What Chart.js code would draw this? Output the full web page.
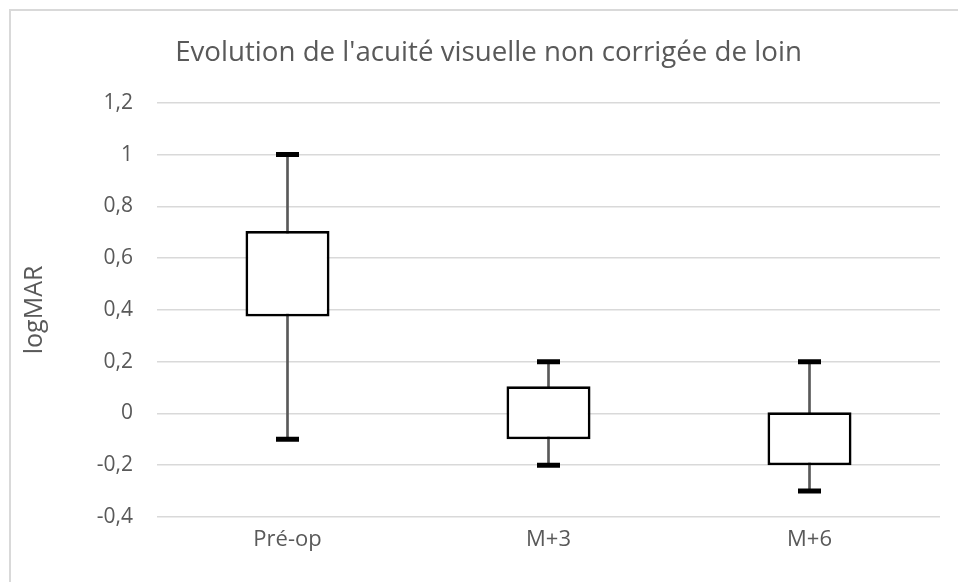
<!DOCTYPE html>
<html>
<head>
<meta charset="utf-8">
<script src="https://cdn.jsdelivr.net/npm/chart.js@4/dist/chart.umd.min.js"></script>
<style>
  html, body { margin: 0; padding: 0; background: #fff; }
  #wrap { position: relative; width: 958px; height: 582px; }
  #frame { position: absolute; left: 9px; top: 9px; right: -5px; bottom: -5px; border-top: 2px solid #d9d9d9; border-left: 2px solid #d9d9d9; pointer-events: none; }
  canvas { position: absolute; left: 0; top: 0; }
</style>
</head>
<body>
<div id="wrap">
  <canvas id="c" width="958" height="582"></canvas>
  <div id="frame"></div>
</div>
<script>
const categories = ["Pré-op", "M+3", "M+6"];
const minValues = [-0.1, -0.2, -0.3];
const q1Values = [0.375, -0.1, -0.2];
const q3Values = [0.705, 0.105, 0.005];
const maxValues = [1.0, 0.2, 0.2];
const yTicks = [-0.4, -0.2, 0, 0.2, 0.4, 0.6, 0.8, 1, 1.2];
const titleText = "Evolution de l'acuité visuelle non corrigée de loin";
const yTitle = "logMAR";

const FONT = "'Open Sans', sans-serif";
const GRAY = "#595959";

new Chart(document.getElementById('c'), {
  type: 'bar',
  data: {
    labels: categories,
    datasets: [
      {
        label: 'box',
        data: q1Values.map((q, i) => [q, q3Values[i]]),
        backgroundColor: '#ffffff',
        borderColor: '#000000',
        borderWidth: 2.75,
        borderSkipped: false,
        grouped: false,
        categoryPercentage: 1,
        barPercentage: 0.322,
        order: 1
      },
      {
        label: 'whisker',
        data: minValues.map((m, i) => [m, maxValues[i]]),
        backgroundColor: GRAY,
        borderWidth: 0,
        grouped: false,
        barThickness: 2,
        order: 2
      },
      {
        type: 'line',
        label: 'max',
        data: maxValues,
        showLine: false,
        pointStyle: 'line',
        pointRadius: 11.5,
        pointBorderWidth: 5,
        pointBorderColor: '#000000',
        pointBackgroundColor: '#000000',
        order: 0
      },
      {
        type: 'line',
        label: 'min',
        data: minValues,
        showLine: false,
        pointStyle: 'line',
        pointRadius: 11.5,
        pointBorderWidth: 5,
        pointBorderColor: '#000000',
        pointBackgroundColor: '#000000',
        order: 0
      }
    ]
  },
  options: {
    responsive: false,
    animation: false,
    events: [],
    layout: { padding: { left: 37, right: 18, top: 0, bottom: 0 } },
    plugins: {
      legend: { display: false },
      tooltip: { enabled: false },
      title: {
        display: true,
        text: titleText,
        color: GRAY,
        font: { family: FONT, size: 27.7, weight: 'normal' },
        padding: { top: 36, bottom: 33.6 }
      }
    },
    scales: {
      x: {
        grid: { display: false },
        border: { display: false },
        ticks: { color: GRAY, font: { family: FONT, size: 22 }, padding: 2 },
        afterFit: s => { s.height = 65; }
      },
      y: {
        min: -0.4,
        max: 1.2,
        afterBuildTicks: s => { s.ticks = yTicks.map(v => ({ value: v })); },
        grid: { color: '#d9d9d9', lineWidth: 1.5, drawTicks: false },
        border: { display: false },
        ticks: {
          color: GRAY,
          font: { family: FONT, size: 21 },
          padding: 24,
          callback: v => String(Number(v.toFixed(1))).replace('.', ',')
        },
        title: {
          display: true,
          text: yTitle,
          color: GRAY,
          font: { family: FONT, size: 25 },
          padding: { top: -17, bottom: 0 }
        },
        afterFit: s => { s.width = 120; }
      }
    }
  }
});
</script>
</body>
</html>
